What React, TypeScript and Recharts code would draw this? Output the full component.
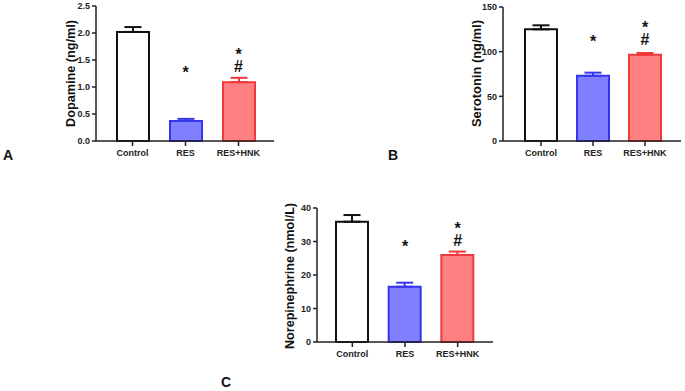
import React from 'react';
import { BarChart, Bar, XAxis, YAxis, ErrorBar, ReferenceDot } from 'recharts';

const categories = ['Control', 'RES', 'RES+HNK'];

const dopamineMean = [2.02, 0.37, 1.09];
const dopamineSem = [0.09, 0.04, 0.08];
const dopamineTicks = [0, 0.5, 1.0, 1.5, 2.0, 2.5];

const serotoninMean = [125, 73, 96.5];
const serotoninSem = [4.5, 3.5, 2];
const serotoninTicks = [0, 50, 100, 150];

const norepiMean = [35.9, 16.5, 26];
const norepiSem = [2, 1.2, 1];
const norepiTicks = [0, 10, 20, 30, 40];

// significance annotations: [category, y of lowest glyph centre (value units), glyphs]
const dopamineMarks: [string, number, string][] = [
  ['RES', 1.33, '*'],
  ['RES+HNK', 1.38, '*#'],
];
const serotoninMarks: [string, number, string][] = [
  ['RES', 115.6, '*'],
  ['RES+HNK', 113.8, '*#'],
];
const norepiMarks: [string, number, string][] = [
  ['RES', 29.5, '*'],
  ['RES+HNK', 30.4, '*#'],
];

const seriesKeys = ['c0', 'c1', 'c2'];
const fills = ['#ffffff', '#7f7fff', '#ff8080'];
const strokes = ['#111111', '#3535ee', '#ee3a3a'];

const FONT = '"Liberation Sans", Arial, Helvetica, sans-serif';

function buildRows(means: number[], sems: number[]) {
  return categories.map((name, i) => {
    const row: any = { name };
    seriesKeys.forEach((k, j) => {
      if (j === i) {
        row[k] = means[i];
        row[k + 'Err'] = [0, sems[i]];
      }
    });
    return row;
  });
}

const Glyph = (props: any) => {
  const { cx, cy, glyphs } = props;
  if (cx == null || cy == null) return null;
  const common = { textAnchor: 'middle' as const, fontFamily: FONT, fontWeight: 'bold', fontSize: 16, fill: '#111' };
  if (glyphs === '*') {
    return (
      <text x={cx} y={cy + 9} {...common}>
        *
      </text>
    );
  }
  return (
    <text {...common}>
      <tspan x={cx} y={cy - 15 + 9}>*</tspan>
      <tspan x={cx} y={cy + 5.7}>#</tspan>
    </text>
  );
};

type PanelProps = {
  left: number;
  top: number;
  width: number;
  height: number;
  margin: { top: number; right: number; bottom: number; left: number };
  pad: { left: number; right: number };
  means: number[];
  sems: number[];
  ticks: number[];
  marks: [string, number, string][];
  tickFmt: (v: number) => string;
};

function Panel(p: PanelProps) {
  const rows = buildRows(p.means, p.sems);
  const tickStyle = { fontFamily: FONT, fontWeight: 'bold', fontSize: 9, fill: '#222' } as any;
  return (
    <div style={{ position: 'absolute', left: p.left, top: p.top }}>
      <BarChart width={p.width} height={p.height} data={rows} margin={p.margin} barSize={32}>
        <XAxis
          dataKey="name"
          padding={p.pad}
          axisLine={{ stroke: '#222', strokeWidth: 1.5 }}
          tickLine={{ stroke: '#222', strokeWidth: 1.5 }}
          tickSize={5}
          tickMargin={4}
          tick={tickStyle}
          height={25}
          interval={0}
        />
        <YAxis
          width={40}
          domain={[p.ticks[0], p.ticks[p.ticks.length - 1]]}
          ticks={p.ticks}
          interval={0}
          tickFormatter={p.tickFmt}
          axisLine={{ stroke: '#222', strokeWidth: 1.5 }}
          tickLine={{ stroke: '#222', strokeWidth: 1.5 }}
          tickSize={4}
          tickMargin={2}
          tick={tickStyle}
        />
        {seriesKeys.map((k, j) => (
          <Bar
            key={k}
            dataKey={k}
            stackId="s"
            fill={fills[j]}
            stroke={strokes[j]}
            strokeWidth={2}
            isAnimationActive={false}
          >
            <ErrorBar dataKey={k + 'Err'} width={8.5} stroke={strokes[j]} strokeWidth={2} direction="y" />
          </Bar>
        ))}
        {p.marks.map(([cat, y, g], i) => (
          <ReferenceDot
            key={i}
            x={cat}
            y={y}
            r={0}
            ifOverflow="visible"
            shape={(sp: any) => <Glyph {...sp} glyphs={g} />}
          />
        ))}
      </BarChart>
    </div>
  );
}

// axis titles and panel letters: [text, x, y, rotated, length]
const yTitles: [string, number, number, number][] = [
  ['Dopamine (ng/ml)', 71, 73.5, 107],
  ['Serotonin (ng/ml)', 476.5, 73.5, 107],
  ['Norepinephrine (nmol/L)', 290, 276, 146],
];
const panelLetters: [string, number, number][] = [
  ['A', 3, 160],
  ['B', 388, 160],
  ['C', 221, 387],
];

export default function App() {
  return (
    <div style={{ position: 'absolute', left: 0, top: 0, width: 685, height: 391, background: '#fff', overflow: 'hidden' }}>
      <Panel
        left={0}
        top={0}
        width={280}
        height={170}
        margin={{ top: 6, right: 6, bottom: 4, left: 56 }}
        pad={{ left: 10, right: 9 }}
        means={dopamineMean}
        sems={dopamineSem}
        ticks={dopamineTicks}
        marks={dopamineMarks}
        tickFmt={(v) => v.toFixed(1)}
      />
      <Panel
        left={400}
        top={0}
        width={285}
        height={170}
        margin={{ top: 7, right: 4, bottom: 4, left: 63 }}
        pad={{ left: 12, right: 10 }}
        means={serotoninMean}
        sems={serotoninSem}
        ticks={serotoninTicks}
        marks={serotoninMarks}
        tickFmt={(v) => String(v)}
      />
      <Panel
        left={220}
        top={190}
        width={280}
        height={200}
        margin={{ top: 18, right: 7, bottom: 23, left: 57 }}
        pad={{ left: 9, right: 9 }}
        means={norepiMean}
        sems={norepiSem}
        ticks={norepiTicks}
        marks={norepiMarks}
        tickFmt={(v) => String(v)}
      />
      <svg width={685} height={391} style={{ position: 'absolute', left: 0, top: 0, pointerEvents: 'none' }}>
        {yTitles.map(([t, x, y, len]) => (
          <text
            key={t}
            x={x}
            y={y}
            transform={`rotate(-90, ${x}, ${y})`}
            textAnchor="middle"
            dominantBaseline="central"
            fontFamily={FONT}
            fontWeight="bold"
            fontSize={12.5}
            fill="#111"
            textLength={len}
            lengthAdjust="spacingAndGlyphs"
          >
            {t}
          </text>
        ))}
        {panelLetters.map(([t, x, y]) => (
          <text key={t} x={x} y={y} fontFamily={FONT} fontWeight="bold" fontSize={14} fill="#111">
            {t}
          </text>
        ))}
      </svg>
    </div>
  );
}
